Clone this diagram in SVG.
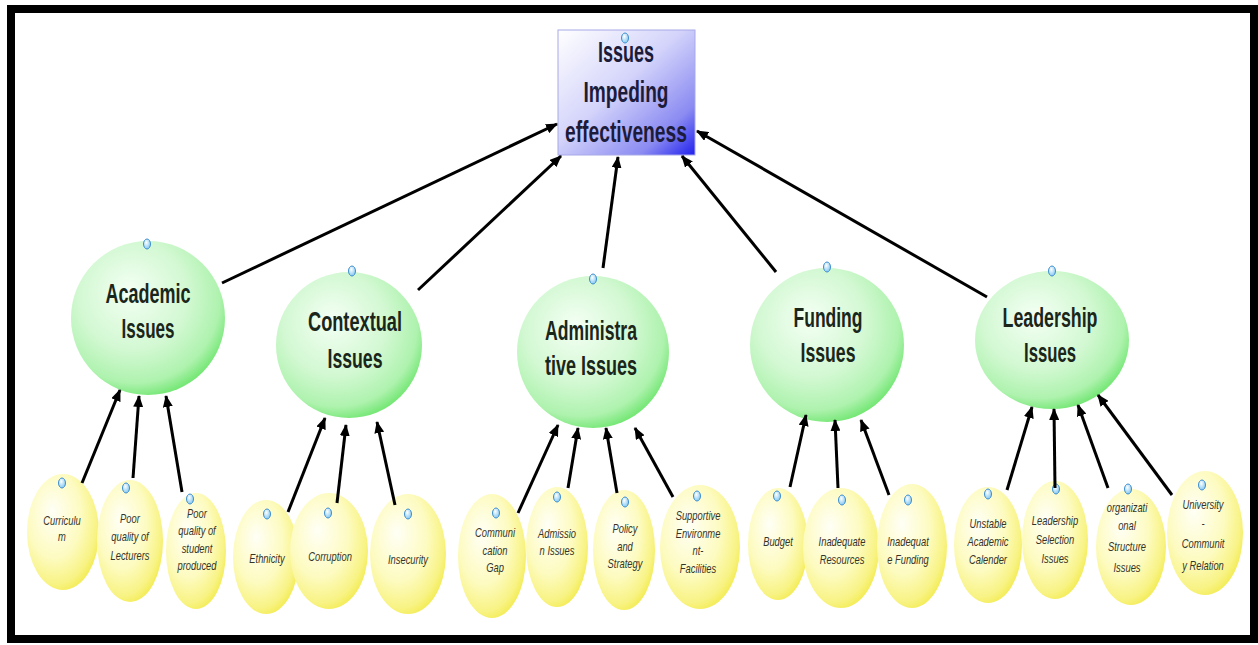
<svg xmlns="http://www.w3.org/2000/svg" width="1258" height="645" viewBox="0 0 1258 645">
<defs>
<linearGradient id="gBox" x1="0" y1="0" x2="1" y2="1">
<stop offset="0" stop-color="#ffffff"/>
<stop offset="0.45" stop-color="#d4d4fb"/>
<stop offset="0.8" stop-color="#8a8af2"/>
<stop offset="1" stop-color="#2020ee"/>
</linearGradient>
<radialGradient id="gGreen" cx="0.42" cy="0.38" r="0.65" fx="0.38" fy="0.32">
<stop offset="0" stop-color="#f4fff4"/>
<stop offset="0.55" stop-color="#d2f8d2"/>
<stop offset="0.85" stop-color="#aef2ae"/>
<stop offset="1" stop-color="#6fe66f"/>
</radialGradient>
<radialGradient id="gYellow" cx="0.4" cy="0.38" r="0.68" fx="0.35" fy="0.32">
<stop offset="0" stop-color="#fffff6"/>
<stop offset="0.55" stop-color="#fdfbc0"/>
<stop offset="0.85" stop-color="#f8f384"/>
<stop offset="1" stop-color="#f2ea4a"/>
</radialGradient>
<radialGradient id="gKnob" cx="0.4" cy="0.35" r="0.7">
<stop offset="0" stop-color="#ffffff"/>
<stop offset="1" stop-color="#7cc4f0"/>
</radialGradient>
<marker id="ah" viewBox="0 0 12 10" refX="11" refY="5" markerWidth="12" markerHeight="10" markerUnits="userSpaceOnUse" orient="auto">
<path d="M0,0 L12,5 L0,10 z" fill="#000"/>
</marker>
<style>
.box{fill:url(#gBox);stroke:#a8a8e8;stroke-width:1}
.green{fill:url(#gGreen)}
.yellow{fill:url(#gYellow)}
.knob{fill:url(#gKnob);stroke:#3f8fd0;stroke-width:1}
.ttl{font-family:"Liberation Sans",Arial,sans-serif;font-weight:bold;font-size:28px;fill:#1a261a;text-anchor:middle}
.top{font-family:"Liberation Sans",Arial,sans-serif;font-weight:bold;font-size:29px;fill:#1c1c3a;text-anchor:middle}
.sm{font-family:"Liberation Sans",Arial,sans-serif;font-style:italic;font-size:12px;fill:#34342a;text-anchor:middle}
.ln{stroke:#000;stroke-width:3;fill:none;marker-end:url(#ah)}
</style>
</defs>
<rect x="0" y="0" width="1258" height="645" fill="#ffffff"/>
<rect x="11" y="9" width="1243" height="630" fill="#ffffff" stroke="#000" stroke-width="8"/>

<g id="n-root">
<rect class="box" x="558" y="30" width="137" height="125"/>
<ellipse class="knob" cx="625" cy="38" rx="3.5" ry="5"/>
<text class="top" x="626" y="62" textLength="56" lengthAdjust="spacingAndGlyphs">Issues</text>
<text class="top" x="626" y="102" textLength="85" lengthAdjust="spacingAndGlyphs">Impeding</text>
<text class="top" x="626" y="142" textLength="122" lengthAdjust="spacingAndGlyphs">effectiveness</text>
</g>

<g id="n-academic">
<circle class="green" cx="148" cy="318" r="77"/>
<ellipse class="knob" cx="147" cy="244" rx="3.5" ry="5"/>
<text class="ttl" x="148" y="303" textLength="85" lengthAdjust="spacingAndGlyphs">Academic</text>
<text class="ttl" x="148" y="338" textLength="53" lengthAdjust="spacingAndGlyphs">Issues</text>
</g>
<g id="n-contextual">
<circle class="green" cx="349" cy="345" r="73"/>
<ellipse class="knob" cx="352" cy="271" rx="3.5" ry="5"/>
<text class="ttl" x="355" y="331" textLength="94" lengthAdjust="spacingAndGlyphs">Contextual</text>
<text class="ttl" x="355" y="368" textLength="55" lengthAdjust="spacingAndGlyphs">Issues</text>
</g>
<g id="n-administrative">
<circle class="green" cx="593" cy="352" r="76"/>
<ellipse class="knob" cx="593" cy="279" rx="3.5" ry="5"/>
<text class="ttl" x="591" y="340" textLength="92" lengthAdjust="spacingAndGlyphs">Administra</text>
<text class="ttl" x="591" y="375" textLength="92" lengthAdjust="spacingAndGlyphs">tive Issues</text>
</g>
<g id="n-funding">
<circle class="green" cx="827" cy="345" r="77"/>
<ellipse class="knob" cx="827" cy="267" rx="3.5" ry="5"/>
<text class="ttl" x="828" y="327" textLength="69" lengthAdjust="spacingAndGlyphs">Funding</text>
<text class="ttl" x="828" y="362" textLength="55" lengthAdjust="spacingAndGlyphs">Issues</text>
</g>
<g id="n-leadership">
<ellipse class="green" cx="1052" cy="340" rx="77" ry="69"/>
<ellipse class="knob" cx="1052" cy="271" rx="3.5" ry="5"/>
<text class="ttl" x="1050" y="327" textLength="95" lengthAdjust="spacingAndGlyphs">Leadership</text>
<text class="ttl" x="1050" y="362" textLength="52" lengthAdjust="spacingAndGlyphs">Issues</text>
</g>

<g id="n-curriculum">
<ellipse class="yellow" cx="63" cy="532" rx="36" ry="58"/>
<ellipse class="knob" cx="62" cy="483" rx="3.5" ry="5"/>
<text class="sm" transform="translate(62 0) scale(0.78 1)" x="0" y="525">Curriculu</text>
<text class="sm" transform="translate(62 0) scale(0.78 1)" x="0" y="541">m</text>
</g>
<g id="n-lecturers">
<ellipse class="yellow" cx="130" cy="541" rx="33" ry="61"/>
<ellipse class="knob" cx="126" cy="488" rx="3.5" ry="5"/>
<text class="sm" transform="translate(130 0) scale(0.78 1)" x="0" y="523">Poor</text>
<text class="sm" transform="translate(130 0) scale(0.78 1)" x="0" y="541">quality of</text>
<text class="sm" transform="translate(130 0) scale(0.78 1)" x="0" y="560">Lecturers</text>
</g>
<g id="n-student">
<ellipse class="yellow" cx="196" cy="551" rx="30" ry="58"/>
<ellipse class="knob" cx="190" cy="499" rx="3.5" ry="5"/>
<text class="sm" transform="translate(197 0) scale(0.78 1)" x="0" y="518">Poor</text>
<text class="sm" transform="translate(197 0) scale(0.78 1)" x="0" y="535">quality of</text>
<text class="sm" transform="translate(197 0) scale(0.78 1)" x="0" y="553">student</text>
<text class="sm" transform="translate(197 0) scale(0.78 1)" x="0" y="570">produced</text>
</g>

<g id="n-ethnicity">
<ellipse class="yellow" cx="266" cy="557" rx="33" ry="57"/>
<ellipse class="knob" cx="267" cy="514" rx="3.5" ry="5"/>
<text class="sm" transform="translate(267 0) scale(0.78 1)" x="0" y="563">Ethnicity</text>
</g>
<g id="n-corruption">
<ellipse class="yellow" cx="329" cy="551" rx="39" ry="58"/>
<ellipse class="knob" cx="328" cy="513" rx="3.5" ry="5"/>
<text class="sm" transform="translate(330 0) scale(0.78 1)" x="0" y="561">Corruption</text>
</g>
<g id="n-insecurity">
<ellipse class="yellow" cx="408" cy="554" rx="38" ry="60"/>
<ellipse class="knob" cx="408" cy="514" rx="3.5" ry="5"/>
<text class="sm" transform="translate(408 0) scale(0.78 1)" x="0" y="564">Insecurity</text>
</g>

<g id="n-communication">
<ellipse class="yellow" cx="492" cy="556" rx="34" ry="62"/>
<ellipse class="knob" cx="496" cy="513" rx="3.5" ry="5"/>
<text class="sm" transform="translate(495 0) scale(0.78 1)" x="0" y="537">Communi</text>
<text class="sm" transform="translate(495 0) scale(0.78 1)" x="0" y="555">cation</text>
<text class="sm" transform="translate(495 0) scale(0.78 1)" x="0" y="572">Gap</text>
</g>
<g id="n-admission">
<ellipse class="yellow" cx="557" cy="547" rx="31" ry="60"/>
<ellipse class="knob" cx="557" cy="497" rx="3.5" ry="5"/>
<text class="sm" transform="translate(557 0) scale(0.78 1)" x="0" y="538">Admissio</text>
<text class="sm" transform="translate(557 0) scale(0.78 1)" x="0" y="555">n Issues</text>
</g>
<g id="n-policy">
<ellipse class="yellow" cx="624" cy="550" rx="31" ry="60"/>
<ellipse class="knob" cx="625" cy="502" rx="3.5" ry="5"/>
<text class="sm" transform="translate(625 0) scale(0.78 1)" x="0" y="533">Policy</text>
<text class="sm" transform="translate(625 0) scale(0.78 1)" x="0" y="551">and</text>
<text class="sm" transform="translate(625 0) scale(0.78 1)" x="0" y="568">Strategy</text>
</g>
<g id="n-supportive">
<ellipse class="yellow" cx="700" cy="547" rx="40" ry="62"/>
<ellipse class="knob" cx="697" cy="496" rx="3.5" ry="5"/>
<text class="sm" transform="translate(698 0) scale(0.78 1)" x="0" y="520">Supportive</text>
<text class="sm" transform="translate(698 0) scale(0.78 1)" x="0" y="538">Environme</text>
<text class="sm" transform="translate(698 0) scale(0.78 1)" x="0" y="555">nt-</text>
<text class="sm" transform="translate(698 0) scale(0.78 1)" x="0" y="573">Facilities</text>
</g>

<g id="n-budget">
<ellipse class="yellow" cx="778" cy="544" rx="30" ry="56"/>
<ellipse class="knob" cx="777" cy="496" rx="3.5" ry="5"/>
<text class="sm" transform="translate(778 0) scale(0.78 1)" x="0" y="546">Budget</text>
</g>
<g id="n-resources">
<ellipse class="yellow" cx="841" cy="548" rx="38" ry="60"/>
<ellipse class="knob" cx="842" cy="500" rx="3.5" ry="5"/>
<text class="sm" transform="translate(842 0) scale(0.78 1)" x="0" y="546">Inadequate</text>
<text class="sm" transform="translate(842 0) scale(0.78 1)" x="0" y="564">Resources</text>
</g>
<g id="n-fundinglack">
<ellipse class="yellow" cx="912" cy="546" rx="35" ry="62"/>
<ellipse class="knob" cx="908" cy="500" rx="3.5" ry="5"/>
<text class="sm" transform="translate(908 0) scale(0.78 1)" x="0" y="546">Inadequat</text>
<text class="sm" transform="translate(908 0) scale(0.78 1)" x="0" y="564">e Funding</text>
</g>

<g id="n-calender">
<ellipse class="yellow" cx="988" cy="545" rx="34" ry="58"/>
<ellipse class="knob" cx="988" cy="494" rx="3.5" ry="5"/>
<text class="sm" transform="translate(988 0) scale(0.78 1)" x="0" y="528">Unstable</text>
<text class="sm" transform="translate(988 0) scale(0.78 1)" x="0" y="546">Academic</text>
<text class="sm" transform="translate(988 0) scale(0.78 1)" x="0" y="564">Calender</text>
</g>
<g id="n-selection">
<ellipse class="yellow" cx="1055" cy="540" rx="33" ry="59"/>
<ellipse class="knob" cx="1056" cy="489" rx="3.5" ry="5"/>
<text class="sm" transform="translate(1055 0) scale(0.78 1)" x="0" y="525">Leadership</text>
<text class="sm" transform="translate(1055 0) scale(0.78 1)" x="0" y="544">Selection</text>
<text class="sm" transform="translate(1055 0) scale(0.78 1)" x="0" y="563">Issues</text>
</g>
<g id="n-structure">
<ellipse class="yellow" cx="1131" cy="547" rx="35" ry="58"/>
<ellipse class="knob" cx="1128" cy="489" rx="3.5" ry="5"/>
<text class="sm" transform="translate(1127 0) scale(0.78 1)" x="0" y="512">organizati</text>
<text class="sm" transform="translate(1127 0) scale(0.78 1)" x="0" y="530">onal</text>
<text class="sm" transform="translate(1127 0) scale(0.78 1)" x="0" y="551">Structure</text>
<text class="sm" transform="translate(1127 0) scale(0.78 1)" x="0" y="572">Issues</text>
</g>
<g id="n-community">
<ellipse class="yellow" cx="1205" cy="533" rx="38" ry="62"/>
<ellipse class="knob" cx="1202" cy="485" rx="3.5" ry="5"/>
<text class="sm" transform="translate(1203 0) scale(0.78 1)" x="0" y="509">University</text>
<text class="sm" transform="translate(1203 0) scale(0.78 1)" x="0" y="528">-</text>
<text class="sm" transform="translate(1203 0) scale(0.78 1)" x="0" y="548">Communit</text>
<text class="sm" transform="translate(1203 0) scale(0.78 1)" x="0" y="570">y Relation</text>
</g>

<g id="connectors">
<line class="ln" x1="222" y1="283" x2="557" y2="124"/>
<line class="ln" x1="418" y1="290" x2="561" y2="156"/>
<line class="ln" x1="603" y1="268" x2="618" y2="157"/>
<line class="ln" x1="776" y1="272" x2="682" y2="156"/>
<line class="ln" x1="987" y1="297" x2="697" y2="131"/>
<line class="ln" x1="82" y1="483" x2="120" y2="390"/>
<line class="ln" x1="133" y1="478" x2="139" y2="396"/>
<line class="ln" x1="182" y1="492" x2="166" y2="396"/>
<line class="ln" x1="288" y1="512" x2="325" y2="418"/>
<line class="ln" x1="337" y1="503" x2="346" y2="425"/>
<line class="ln" x1="395" y1="505" x2="377" y2="422"/>
<line class="ln" x1="518" y1="513" x2="558" y2="425"/>
<line class="ln" x1="568" y1="488" x2="578" y2="428"/>
<line class="ln" x1="617" y1="493" x2="606" y2="428"/>
<line class="ln" x1="673" y1="497" x2="635" y2="428"/>
<line class="ln" x1="790" y1="487" x2="806" y2="415"/>
<line class="ln" x1="838" y1="488" x2="835" y2="420"/>
<line class="ln" x1="889" y1="495" x2="861" y2="420"/>
<line class="ln" x1="1007" y1="490" x2="1032" y2="407"/>
<line class="ln" x1="1055" y1="488" x2="1054" y2="409"/>
<line class="ln" x1="1108" y1="488" x2="1078" y2="405"/>
<line class="ln" x1="1172" y1="495" x2="1098" y2="395"/>
</g>
</svg>
